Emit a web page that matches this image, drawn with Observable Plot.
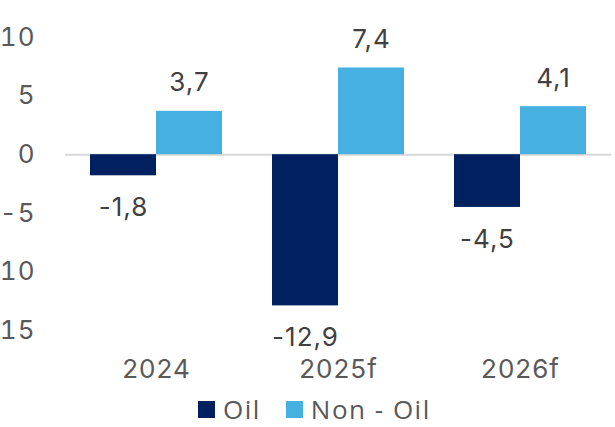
<!DOCTYPE html>
<html>
<head>
<meta charset="utf-8">
<script src="https://cdn.jsdelivr.net/npm/d3@7"></script>
<script src="https://cdn.jsdelivr.net/npm/@observablehq/plot@0.6"></script>
<style>
  html, body { margin: 0; padding: 0; background: #fff; }
  #wrap { position: relative; width: 615px; height: 427px; overflow: hidden; }
  #legend { position: absolute; left: 198px; top: 391px; display: flex; align-items: center; font-family: "Open Sans", sans-serif; font-size: 26px; letter-spacing: 1.5px; color: #595959; }
  #legend .item { display: flex; align-items: center; margin-right: 25px; }
  #legend .sw { width: 17px; height: 17px; margin-right: 8px; }
</style>
</head>
<body>
<div id="wrap"><div id="chart"></div><div id="legend"></div></div>
<script>
const years = ["2024", "2025f", "2026f"];
const series = ["Oil", "Non - Oil"];
const oil = [-1.8, -12.9, -4.5];
const nonOil = [3.7, 7.4, 4.1];
const colors = ["#002060", "#46B1E1"];
const yTicks = [10, 5, 0, -5, -10, -15];

const data = [];
years.forEach((y, i) => {
  data.push({year: y, series: series[0], value: oil[i]});
  data.push({year: y, series: series[1], value: nonOil[i]});
});
const fmt = v => String(v).replace(".", ",");
const FONT = "Inter, sans-serif";

const chart = Plot.plot({
  width: 615,
  height: 390,
  marginTop: 37,
  marginBottom: 60,
  marginLeft: 64,
  marginRight: 3,
  style: {fontFamily: FONT, fontSize: "26px", letterSpacing: "1px", color: "#595959", background: "#fff", overflow: "visible"},
  fx: {domain: years, padding: 0, label: null, axis: null},
  x: {domain: series, paddingInner: 0, paddingOuter: 0.373, axis: null},
  y: {domain: [-15, 10], ticks: yTicks, label: null, axis: null},
  color: {domain: series, range: colors},
  marks: [
    Plot.axisY({ticks: yTicks, tickSize: 0, tickPadding: 30, tickFormat: d => String(d), label: null, fontSize: 26, fill: "#595959"}),
    Plot.axisFx({anchor: "bottom", tickSize: 0, tickPadding: 29, label: null, fontSize: 26, fill: "#595959"}),
    Plot.ruleY([0], {stroke: "#d9d9d9", strokeWidth: 2}),
    Plot.barY(data, {fx: "year", x: "series", y: "value", fill: "series", inset: 0}),
    Plot.text(data.filter(d => d.value >= 0), {fx: "year", x: "series", y: "value", text: d => fmt(d.value), lineAnchor: "bottom", dy: -20, fontSize: 26, fill: "#404040"}),
    Plot.text(data.filter(d => d.value < 0), {fx: "year", x: "series", y: "value", text: d => fmt(d.value), lineAnchor: "top", dy: 22, fontSize: 26, fill: "#404040"})
  ]
});
document.getElementById("chart").appendChild(chart);

const legend = document.getElementById("legend");
series.forEach((s, i) => {
  const item = document.createElement("div");
  item.className = "item";
  const sw = document.createElement("span");
  sw.className = "sw";
  sw.style.background = colors[i];
  const t = document.createElement("span");
  t.textContent = s;
  item.appendChild(sw);
  item.appendChild(t);
  legend.appendChild(item);
});
</script>
</body>
</html>
